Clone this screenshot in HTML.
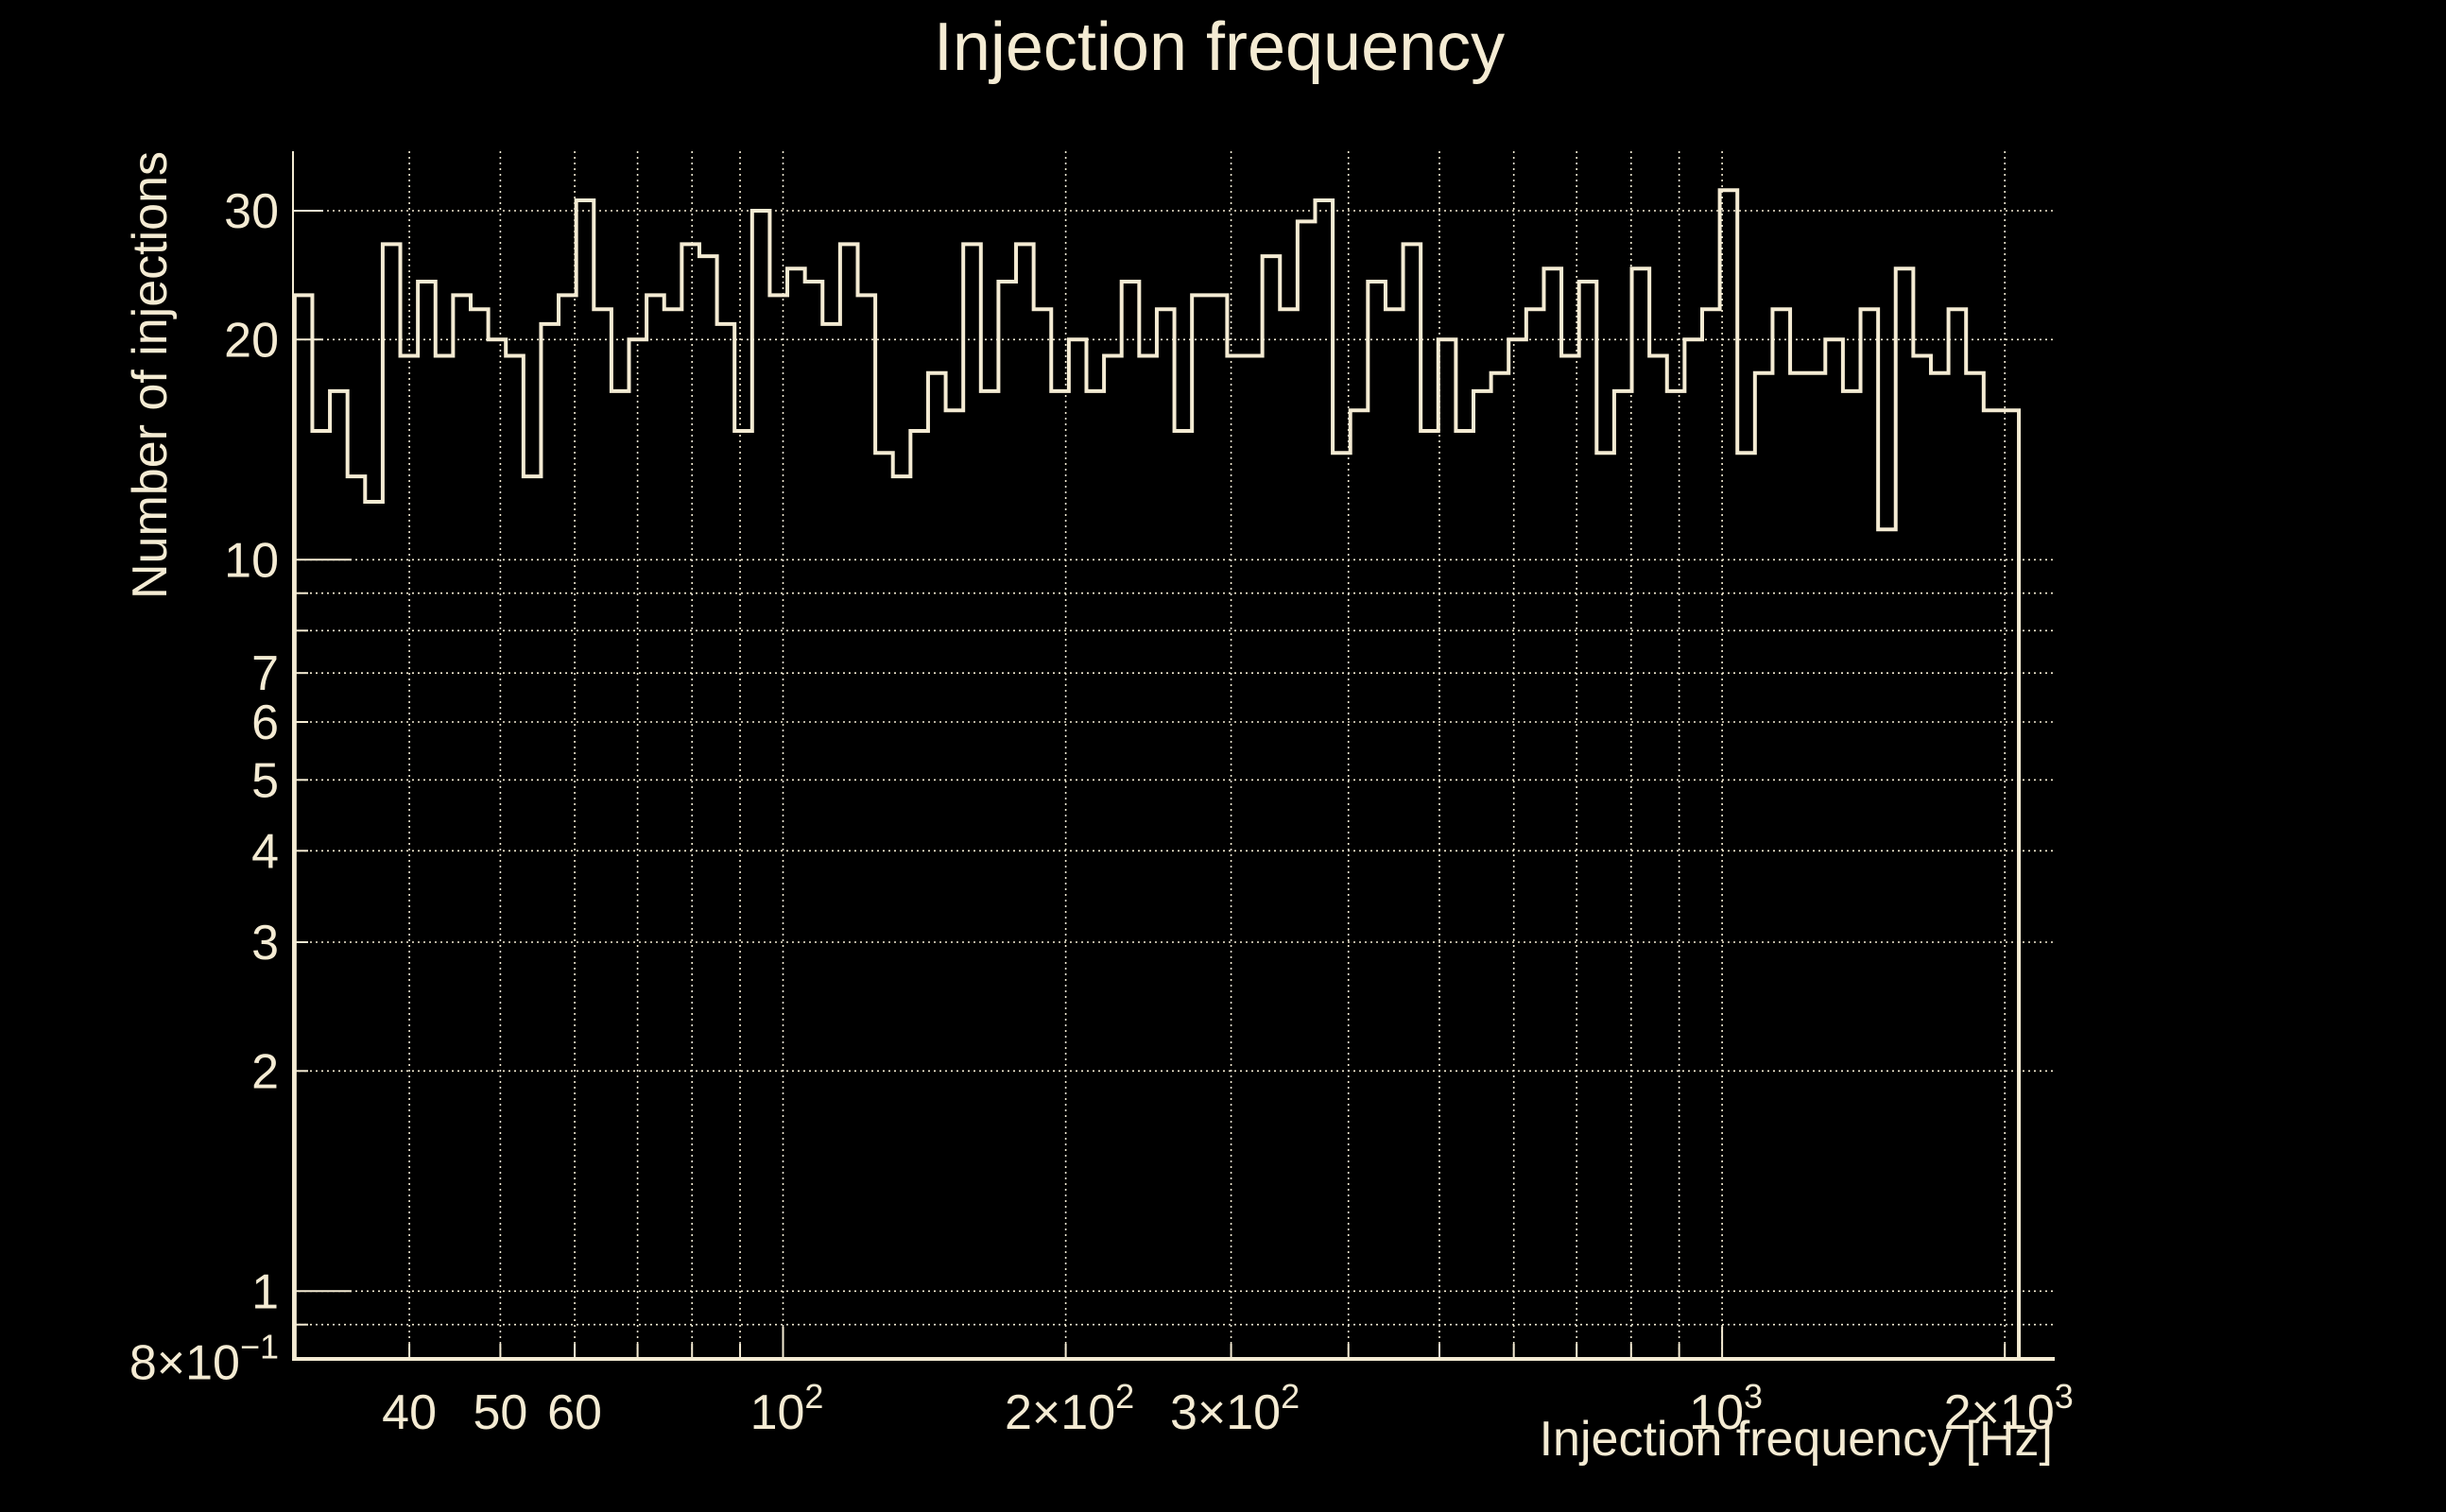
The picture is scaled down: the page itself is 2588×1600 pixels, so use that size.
<!DOCTYPE html>
<html><head><meta charset="utf-8"><style>
html,body{margin:0;padding:0;background:#000;}
svg{display:block;}
text{font-family:"Liberation Sans",sans-serif;fill:#f4ebd3;}
</style></head><body>
<svg id="chart" width="2588" height="1600" viewBox="0 0 2588 1600" xmlns="http://www.w3.org/2000/svg">
<rect width="2588" height="1600" fill="#000"/>
<text x="1290" y="74" font-size="72" text-anchor="middle">Injection frequency</text>
<text transform="translate(176,160) rotate(-90)" font-size="52" text-anchor="end">Number of injections</text>
<text x="2172" y="1540" font-size="52" text-anchor="end">Injection frequency [Hz]</text>
<g id="grid"></g>
<g id="ticks"></g>
<g id="labels"></g>
<path id="hist" fill="none" stroke="#f4ebd3" stroke-width="4"/>
<line x1="310" y1="160" x2="310" y2="1440" stroke="#f4ebd3" stroke-width="2"/>
<line x1="309" y1="1438" x2="2174" y2="1438" stroke="#f4ebd3" stroke-width="4"/>
</svg>
<script>
const counts = [23,15,17,13,12,27,19,24,19,23,22,20,19,13,21,23,31,22,17,20,23,22,27,26,21,15,30,23,25,24,21,27,23,14,13,15,18,16,27,17,24,27,
22,17,20,17,19,24,19,22,15,23,23,19,19,26,22,29,31,14,16,24,22,27,15,20,15,17,18,20,22,25,19,24,14,17,25,19,17,20,22,32,
14,18,22,18,18,20,17,22,11,25,19,18,22,18,16,16];
const histMin = 30.2;
const histMax = 2070;
const xGridVals = [40,50,60,70,80,90,100,200,300,400,500,600,700,800,900,1000,2000];
const yGridVals = [30,20,10,9,8,7,6,5,4,3,2,1,0.9];
const xTickLabels = [[40,"40",""],[50,"50",""],[60,"60",""],[100,"10","2"],[200,"2×10","2"],[300,"3×10","2"],[1000,"10","3"],[2000,"2×10","3"]];
const yTickLabels = [[30,"30",""],[20,"20",""],[10,"10",""],[7,"7",""],[6,"6",""],[5,"5",""],[4,"4",""],[3,"3",""],[2,"2",""],[1,"1",""],[0.8,"8×10","−1"]];

const NS="http://www.w3.org/2000/svg";
const X = v => 828.5 + 993.6*Math.log10(v/100);
const Y = v => 223 - 774*Math.log10(v/30);
const L=310, R=2172, T=160, B=1438;
const grid=document.getElementById('grid'), ticks=document.getElementById('ticks'), labels=document.getElementById('labels');
function ln(p,x1,y1,x2,y2,w,dash){const l=document.createElementNS(NS,'line');
l.setAttribute('x1',x1);l.setAttribute('y1',y1);l.setAttribute('x2',x2);l.setAttribute('y2',y2);
l.setAttribute('stroke','#f4ebd3');l.setAttribute('stroke-width',w);if(dash)l.setAttribute('stroke-dasharray',dash);p.appendChild(l);return l;}
xGridVals.forEach(v=>{const x=X(v);
const g=ln(grid,x,T,x,B,1.6,'2,4');


const major=(v===100||v===1000);
const t=ln(ticks,x,B,x,B-(major?34:16),2);


});
yGridVals.forEach(v=>{const y=Y(v);
const g=ln(grid,L,y,R,y,1.6,'2,4');


const len=(v===10||v===1)?62:(v===30||v===20)?32:16;
const t=ln(ticks,L,y,L+len,y,2);


});
function lbl(x,y,anchor,main,sup){const t=document.createElementNS(NS,'text');
t.setAttribute('x',x);t.setAttribute('y',y);t.setAttribute('font-size','52');t.setAttribute('text-anchor',anchor);
t.appendChild(document.createTextNode(main));
if(sup){const s=document.createElementNS(NS,'tspan');s.setAttribute('dy','-22');s.setAttribute('font-size','36');s.textContent=sup;t.appendChild(s);}
labels.appendChild(t);return t;}
xTickLabels.forEach(d=>{const t=lbl(X(d[0])+(d[2]?4:0),1512,'middle',d[1],d[2]);


});
yTickLabels.forEach(d=>{const t=lbl(295,Y(d[0])+18,'end',d[1],d[2]);


});
const n=counts.length, lo=Math.log10(histMin), hi=Math.log10(histMax);
let d='M'+X(histMin)+','+B;
counts.forEach((c,i)=>{const x0=X(Math.pow(10,lo+(hi-lo)*i/n)), x1=X(Math.pow(10,lo+(hi-lo)*(i+1)/n));
d+=' L'+x0+','+Y(c)+' L'+x1+','+Y(c);});
d+=' L'+X(histMax)+','+B;
document.getElementById('hist').setAttribute('d',d);
</script>
</body></html>
